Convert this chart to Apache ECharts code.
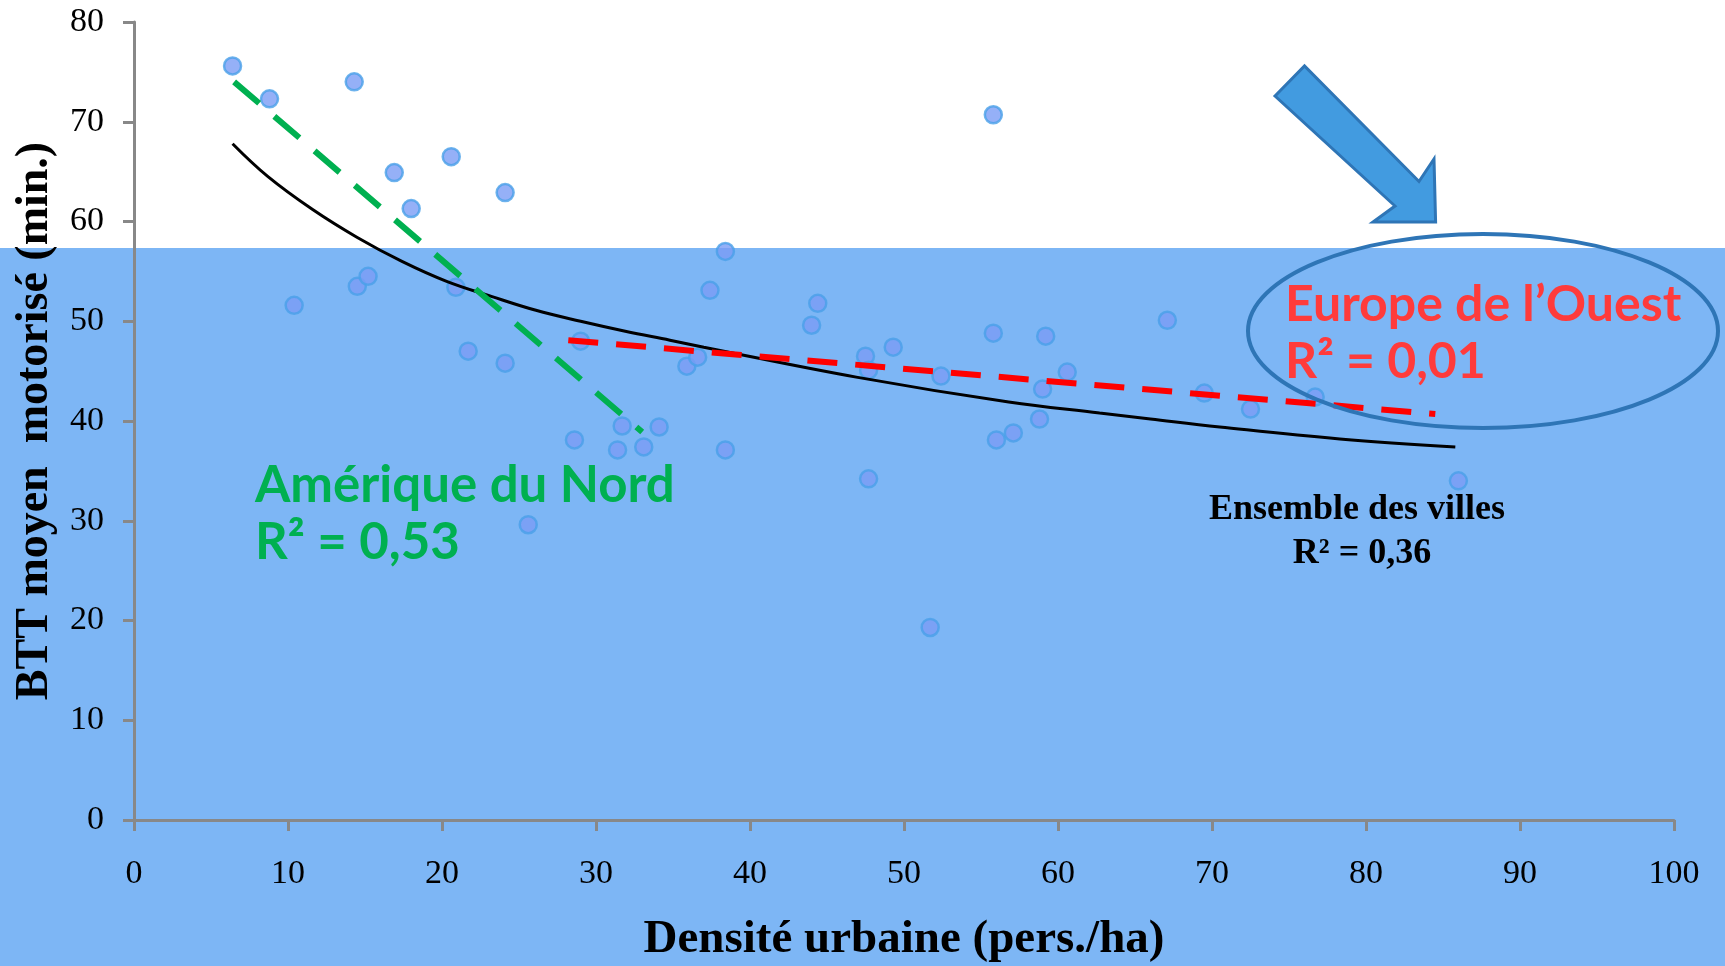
<!DOCTYPE html>
<html><head><meta charset="utf-8">
<script src="https://cdn.jsdelivr.net/npm/echarts@6/dist/echarts.min.js"></script>
<style>
html,body{margin:0;padding:0;}
#c{width:1725px;height:966px;background:linear-gradient(to bottom,#ffffff 0px,#ffffff 248px,#7db6f5 248px,#7db6f5 966px);}
</style></head>
<body><div id="c"></div>
<script>
// Cities: density (pers./ha) and mean motorised BTT (min.)
const cityDensity = [6.4,8.8,14.3,16.9,18.0,20.6,24.1,10.4,14.5,15.2,20.9,21.7,24.1,25.6,28.6,29.0,31.4,31.7,33.1,34.1,35.9,36.6,37.4,38.4,38.4,44.0,44.4,47.5,47.7,47.7,49.3,51.7,52.4,55.8,55.8,56.0,57.1,58.8,59.0,59.2,60.6,67.1,69.5,72.5,76.7,86.0];
const cityBTT     = [75.6,72.3,74.0,64.9,61.3,66.5,62.9,51.6,53.5,54.5,53.4,47.0,45.8,29.6,38.1,48.0,37.1,39.5,37.4,39.4,45.5,46.4,53.1,57.0,37.1,49.6,51.8,46.5,45.1,34.2,47.4,19.3,44.5,70.7,48.8,38.1,38.8,40.2,43.2,48.5,44.9,50.1,42.8,41.2,42.4,34.0];
// Trend (all cities)
const trendAllX = [6.4,8.7,11.6,14.5,17.4,20.3,23.2,26.1,29.0,31.9,34.8,37.0,46.9,56.8,62.7,66.0,70.5,78.3,85.8];
const trendAllY = [67.8,64.5,61.2,58.4,56.0,54.0,52.5,51.1,50.0,49.0,48.1,47.4,44.4,41.9,40.8,40.2,39.4,38.2,37.4];
// North America linear trend (end points)
const trendNAX = [6.5,33.0];
const trendNAY = [74.0,38.9];
// Western Europe linear trend (end points)
const trendWEX = [28.2,84.5];
const trendWEY = [48.1,40.7];
const xTicks = [0,10,20,30,40,50,60,70,80,90,100];
const yTicks = [0,10,20,30,40,50,60,70,80];

const zip = (a,b)=>a.map((v,i)=>[v,b[i]]);
const chart = echarts.init(document.getElementById('c'), null, {renderer:'canvas'});
const serif = '"Liberation Serif","DejaVu Serif",serif';
const sans = 'Lato, "Open Sans", sans-serif';
const axisCommon = {
  axisLine:{show:true,lineStyle:{color:'#888888',width:3}},
  axisTick:{show:true,length:11,lineStyle:{color:'#888888',width:3}},
  splitLine:{show:false},
  axisLabel:{color:'#000',fontFamily:serif,fontSize:34}
};
chart.setOption({
  backgroundColor:'transparent',
  animation:false,
  grid:{left:134,right:51,top:22,bottom:146,containLabel:false},
  xAxis:Object.assign({type:'value',min:xTicks[0],max:xTicks[xTicks.length-1],interval:10},axisCommon,{axisLabel:Object.assign({},axisCommon.axisLabel,{margin:37})}),
  yAxis:Object.assign({type:'value',min:yTicks[0],max:yTicks[yTicks.length-1],interval:10},axisCommon,{axisLabel:Object.assign({},axisCommon.axisLabel,{margin:30})}),
  series:[
    {type:'scatter',data:zip(cityDensity,cityBTT),symbolSize:17,z:3,
     itemStyle:{color:'#7b9cf5',borderColor:'#4aa0e8',borderWidth:2.5}},
    {type:'line',data:zip(trendAllX,trendAllY),smooth:0.4,showSymbol:false,z:4,
     lineStyle:{color:'#000',width:3}},
    {type:'line',data:zip(trendNAX,trendNAY),showSymbol:false,z:4,
     lineStyle:{color:'#00b050',width:6,type:[33,20]}},
    {type:'line',data:zip(trendWEX,trendWEY),showSymbol:false,z:4,
     lineStyle:{color:'#ff0000',width:6,type:[30,18]}}
  ],
  graphic:[
    {type:'text',x:904,y:940,z:10,style:{text:'Densité urbaine (pers./ha)',font:'bold 47px '+serif,fill:'#000',align:'center',verticalAlign:'middle'}},
    {type:'text',x:35,y:421,rotation:Math.PI/2,z:10,style:{text:'BTT moyen  motorisé (min.)',font:'bold 46px '+serif,fill:'#000',align:'center',verticalAlign:'middle'}},
    {type:'text',x:255,y:486,z:10,style:{text:'Amérique du Nord',font:'bold 51px '+sans,fill:'#00b050',align:'left',verticalAlign:'middle'}},
    {type:'text',x:255,y:543,z:10,style:{text:'R² = 0,53',font:'bold 51px '+sans,fill:'#00b050',align:'left',verticalAlign:'middle'}},
    {type:'text',x:1285,y:305,z:10,style:{text:'Europe de l’Ouest',font:'bold 50px '+sans,fill:'#ff3b3b',align:'left',verticalAlign:'middle'}},
    {type:'text',x:1285,y:362,z:10,style:{text:'R² = 0,01',font:'bold 50px '+sans,fill:'#ff3b3b',align:'left',verticalAlign:'middle'}},
    {type:'text',x:1357,y:510,z:10,style:{text:'Ensemble des villes',font:'bold 36px '+serif,fill:'#000',align:'center',verticalAlign:'middle'}},
    {type:'text',x:1362,y:554,z:10,style:{text:'R² = 0,36',font:'bold 36px '+serif,fill:'#000',align:'center',verticalAlign:'middle'}},
    {type:'ellipse',z:9,shape:{cx:1483,cy:331,rx:235,ry:97},style:{fill:'none',stroke:'#2e75b6',lineWidth:4}},
    {type:'polygon',z:9,shape:{points:[[1275,96],[1304.5,66],[1419,181.5],[1434,159],[1435.6,222],[1373,222],[1395,206]]},style:{fill:'#429be0',stroke:'#2e75b6',lineWidth:3}}
  ]
});
</script></body></html>
